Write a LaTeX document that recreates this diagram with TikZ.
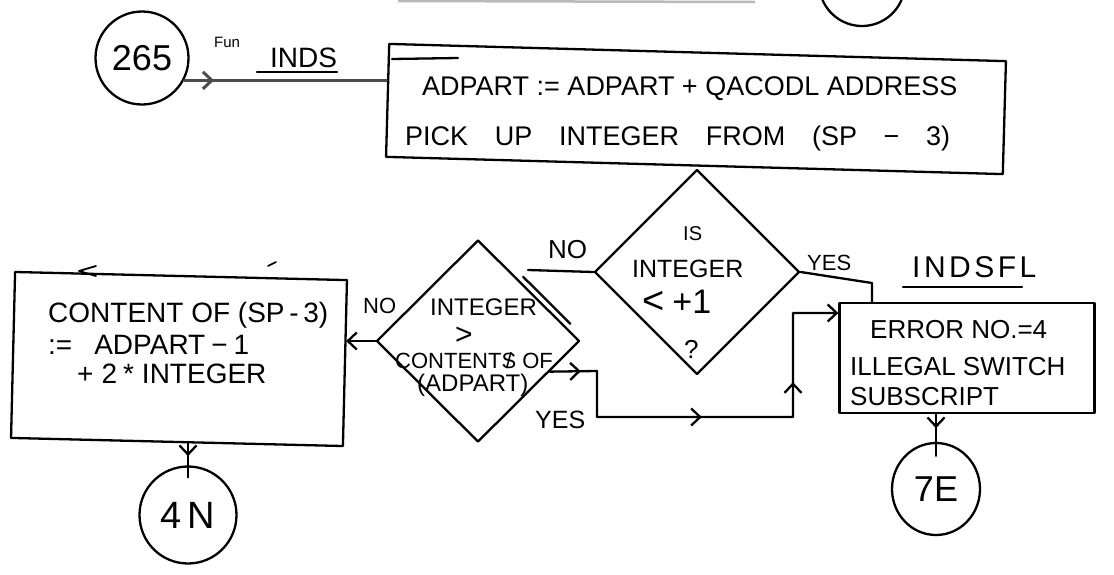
\documentclass[tikz,border=0pt]{standalone}
\usepackage{fontspec}
\setmainfont{Liberation Sans}
\usetikzlibrary{shapes.geometric,arrows.meta,decorations.markings,calc}
\newcommand{\hwsize}[1]{\fontsize{#1}{#1}\selectfont}
\newcommand{\strikeS}{\ooalign{S\cr\hidewidth/\hidewidth}}
\begin{document}
\begin{tikzpicture}[x=1pt,y=-1pt,
  ln/.style={line width=2.3pt, draw=black, line cap=round, line join=round},
  procbox/.style={ln, rectangle, inner sep=0pt},
  decbox/.style={ln, diamond, inner sep=0pt},
  termc/.style={ln, circle, inner sep=0pt},
  lbl/.style={inner sep=0pt, anchor=base west, text=black},
  barb/.style={-{Straight Barb[length=9pt,width=17pt]}},
  flowmarks/.style={postaction={decorate}, decoration={markings,
    mark=at position #1 with {\arrow{Straight Barb[length=9pt,width=17pt]}}}},
  yesmarks/.style={postaction={decorate}, decoration={markings,
    mark=at position 31pt with {\arrow{Straight Barb[length=9pt,width=17pt]}},
    mark=at position 198pt with {\arrow{Straight Barb[length=9pt,width=17pt]}},
    mark=at position 324pt with {\arrow{Straight Barb[length=9pt,width=17pt]}}}},
]
\useasboundingbox (0,0) rectangle (1114,574);

% fragments of the previous page
\draw[line width=2.5pt, gray!55] (398,1) -- (755,2);
\draw[ln] (862,-17) ++(20:43) arc[start angle=20, end angle=160, radius=43];

% nodes
\node[termc, minimum size=93pt, font=\hwsize{36}] (c265) at (142,58) {265};
\node[procbox, minimum width=617pt, minimum height=113pt, rotate=-1.6] (b1) at (696,109) {};
\draw[ln] (392,59) -- (458,58);
\node[lbl, font=\hwsize{27}] (t1a) at (422,95) {ADPART := ADPART + QACODL ADDRESS};
\node[lbl, font=\hwsize{27}] (t1b) at (405,145) {\makebox[545pt][s]{PICK UP INTEGER FROM (SP − 3)}};

\node[lbl, font=\hwsize{15}] (fun) at (214,47) {Fun};
\node[lbl, font=\hwsize{28}] (inds) at (270,67) {INDS};
\draw[ln] (257,72) -- (337,72);

\node[decbox, minimum width=205pt, minimum height=205pt] (d2) at (697,272) {};
\node[lbl, font=\hwsize{20}] (d2a) at (683,240) {IS};
\node[lbl, font=\hwsize{25}] (d2b) at (632,277) {INTEGER};
\node[lbl] (d2c) at (642,313) {\hwsize{38}<\hspace{8pt}\hwsize{34}+1};
\node[lbl, font=\hwsize{26}] (d2d) at (684,358) {?};

\node[decbox, minimum width=203pt, minimum height=202pt] (d1) at (478,341) {};
\node[lbl, font=\hwsize{24}] (d1a) at (430,315) {INTEGER};
\node[lbl, font=\hwsize{30}] (d1b) at (455,344) {>};
\node[lbl, font=\hwsize{22}] (d1c) at (395,368) {CONTENT\strikeS{} OF};
\node[lbl, font=\hwsize{24}] (d1d) at (417,391) {(ADPART)};

\node[procbox, minimum width=332pt, minimum height=166pt, rotate=-1.4] (b2) at (179,359) {};
\node[lbl, font=\hwsize{28}] (t2a) at (48,322) {CONTENT OF (SP\,-\,3)};
\node[lbl, font=\hwsize{28}] (t2b) at (48,354) {:=\hspace{22pt}ADPART\hspace{6pt}−\hspace{6pt}1};
\node[lbl, font=\hwsize{28}] (t2c) at (77,383) {+\hspace{8pt}2\hspace{6pt}*\hspace{8pt}INTEGER};

\node[procbox, minimum width=255pt, minimum height=110pt] (err) at (967,358) {};
\node[lbl, font=\hwsize{26}] (t3a) at (870,338) {ERROR NO.=4};
\node[lbl, font=\hwsize{26}] (t3b) at (850,375) {ILLEGAL SWITCH};
\node[lbl, font=\hwsize{26}] (t3c) at (850,405) {SUBSCRIPT};
\node[lbl, font=\hwsize{30}] (indsfl) at (912,277) {I\kern3.5pt N\kern3.5pt D\kern3.5pt S\kern3.5pt F\kern3.5pt L};
\draw[ln] (903,287) -- (1022,287);

\node[termc, minimum size=97pt, font=\hwsize{38}] (c4n) at (188,515) {4\kern6pt N};
\node[ln, ellipse, minimum width=88pt, minimum height=92pt, inner sep=0pt, font=\hwsize{36}] (c7e) at (936,489) {7E};

% branch labels
\node[lbl, font=\hwsize{22}] (no1) at (363,313) {NO};
\node[lbl, font=\hwsize{26}] (no2) at (548,258) {NO};
\node[lbl, font=\hwsize{22}] (yes2) at (807,270) {YES};
\node[lbl, font=\hwsize{25}] (yes1) at (535,428) {YES};

% stray marks on box 2
\draw[ln, line width=1.8pt] (96,266) -- (79,271) -- (96,276);
\draw[ln, line width=1.6pt] (268,266) -- (276,262);

% connectors
\draw[line width=3pt, gray!60!black, line cap=round, flowmarks=30pt] (c265.-28) -- (c265.-28 -| b1.west);

\coordinate (nojoin) at (528,270);
\draw[ln] (d2.west) -- (nojoin);
\draw[ln] ($(d1.north)!0.4!(d1.east)+(4,-3)$) -- ($(d1.north)!0.86!(d1.east)+(4,-3)$);

\draw[ln, barb] (d1.west) -- (d1.west -| b2.east);
\draw[ln, flowmarks=13pt] (c4n.north |- b2.south) -- ($(c4n.north)+(0,12)$);

\coordinate (ya) at ($(d1.east)!0.3!(d1.south)$);
\coordinate (yb) at (597,371);
\coordinate (yc) at (597,417);
\coordinate (yd) at (793,417);
\coordinate (ye) at (793,313);
\draw[ln, barb, yesmarks] (ya) -- (yb) -- (yc) -- (yd) -- (ye) -- (ye -| err.west);

\coordinate (yf) at (872,283);
\draw[ln] (d2.east) -- (yf) -- (yf |- err.north);

\draw[ln, flowmarks=14pt] (c7e.north |- err.south) -- ($(c7e.north)+(0,14)$);
\end{tikzpicture}
\end{document}
